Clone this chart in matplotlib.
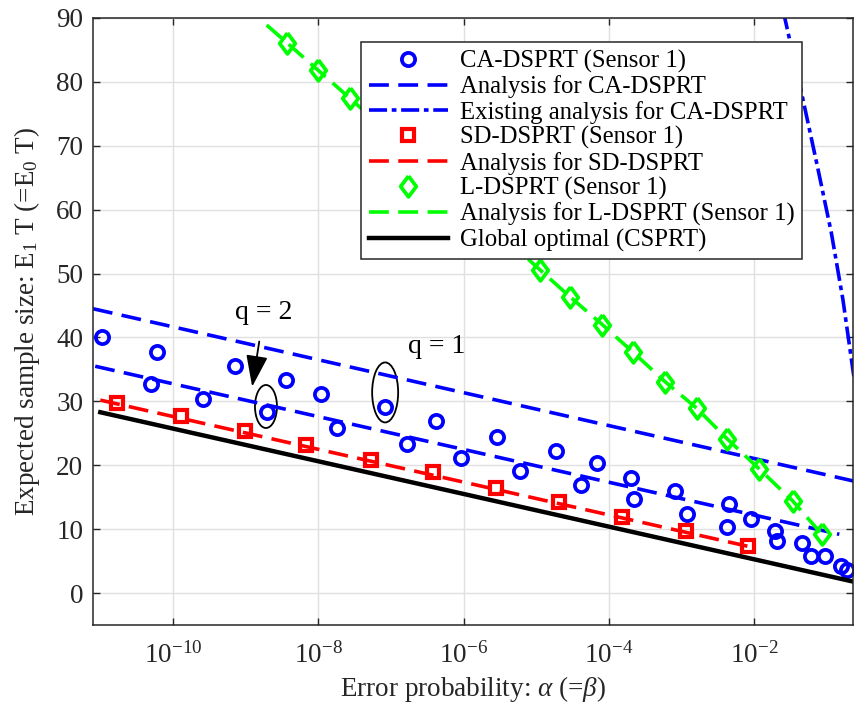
import numpy as np
import matplotlib.pyplot as plt
from matplotlib.patches import Ellipse
from matplotlib.transforms import ScaledTranslation

plt.rcParams['font.family'] = 'Liberation Serif'
plt.rcParams['mathtext.fontset'] = 'custom'
plt.rcParams['mathtext.rm'] = 'Liberation Serif'
plt.rcParams['mathtext.it'] = 'Liberation Serif:italic'

# error probabilities kept as log10(alpha)
ca_sim_log = [-10.98, -10.30, -10.22, -9.59, -9.15, -8.71, -8.45, -7.96, -7.74, -7.08,
              -6.78, -6.38, -6.04, -5.54, -5.23, -4.73, -4.39, -4.17, -3.70, -3.66,
              -3.09, -2.93, -2.38, -2.35, -2.05, -1.71, -1.69, -1.35, -1.22, -1.03,
              -0.80, -0.73]
ca_sim_ess = [40.0, 32.7, 37.8, 30.3, 35.6, 28.3, 33.4, 31.2, 25.9, 29.1,
              23.4, 26.9, 21.2, 24.5, 19.1, 22.3, 16.9, 20.3, 18.0, 14.7,
              15.9, 12.3, 10.3, 13.9, 11.6, 9.7, 8.1, 7.8, 5.8, 5.8,
              4.2, 3.6]

ca_q1_log = [-11.10, -0.62]
ca_q1_ess = [44.5, 17.5]
ca_q2_log = [-11.07, -0.83]
ca_q2_ess = [35.5, 9.2]

ca_old_log = [-1.60, -1.35, -1.13, -0.94, -0.78, -0.63]
ca_old_ess = [91.0, 78.3, 66.7, 56.4, 45.9, 33.9]

sd_sim_log = [-10.77, -9.89, -9.01, -8.17, -7.28, -6.42, -5.56, -4.69, -3.82, -2.94, -2.08]
sd_sim_ess = [29.8, 27.7, 25.3, 23.1, 20.9, 18.9, 16.4, 14.2, 11.9, 9.7, 7.3]
sd_an_log = [-11.0, -2.08]
sd_an_ess = [30.2, 7.3]

l_sim_log = [-8.43, -8.01, -7.57, -4.95, -4.54, -4.09, -3.67, -3.23, -2.79, -2.37, -1.93, -1.47, -1.07]
l_sim_ess = [86.1, 81.9, 77.5, 50.6, 46.4, 42.0, 37.7, 33.1, 28.9, 24.1, 19.4, 14.4, 9.2]
l_an_log = [-8.71] + l_sim_log
l_an_ess = [88.9] + l_sim_ess

cs_log = [-11.0, -0.64]
cs_ess = [28.3, 1.8]


def a(v):
    return 10.0 ** np.asarray(v)


fig = plt.figure(figsize=(8.55, 7.08), dpi=100)
ax = fig.add_axes([0.1088, 0.1172, 0.889, 0.8574])

dash = (0, (5.5, 2.6))
dashdot = (0, (5.0, 1.3, 1.3, 1.3))
diamond = [(0, 1), (0.75, 0), (0, -1), (-0.75, 0), (0, 1)]

ax.plot(a(ca_sim_log), ca_sim_ess, 'o', color='#0000ff', ms=9.5, mew=2.7, mfc='none',
        label='CA-DSPRT (Sensor 1)')
ax.plot(a(ca_q1_log), ca_q1_ess, color='#0000ff', lw=2.6, ls=dash, label='Analysis for CA-DSPRT')
ax.plot(a(ca_q2_log), ca_q2_ess, color='#0000ff', lw=2.6, ls=dash)
ax.plot(a(ca_old_log), ca_old_ess, color='#0000ff', lw=2.6, ls=dashdot,
        label='Existing analysis for CA-DSPRT')
ax.plot(a(sd_sim_log), sd_sim_ess, 's', color='#ff0000', ms=8.5, mew=3, mfc='none',
        label='SD-DSPRT (Sensor 1)')
ax.plot(a(sd_an_log), sd_an_ess, color='#ff0000', lw=2.6, ls=dash, label='Analysis for SD-DSPRT')
ax.plot(a(l_sim_log), l_sim_ess, ls='none', marker=diamond, color='#00ff00', ms=15, mew=2.7,
        mfc='none', label='L-DSPRT (Sensor 1)')
ax.plot(a(l_an_log), l_an_ess, color='#00ff00', lw=2.6, ls=dash,
        label='Analysis for L-DSPRT (Sensor 1)')
ax.plot(a(cs_log), cs_ess, color='black', lw=3.2, label='Global optimal (CSPRT)')

ax.set_xscale('log')
ax.set_xlim(10 ** -11.1, 10 ** -0.64)
ax.set_ylim(-5, 90)
ax.set_xticks([1e-10, 1e-8, 1e-6, 1e-4, 1e-2])
ax.set_xticklabels([r'$10^{-10}$', r'$10^{-8}$', r'$10^{-6}$', r'$10^{-4}$', r'$10^{-2}$'])
ax.xaxis.set_minor_locator(plt.NullLocator())
ax.set_yticks(np.arange(0, 91, 10))

ax.grid(True, color='#e0e0e0', lw=1)
ax.set_axisbelow(True)
for s in ax.spines.values():
    s.set_color('#262626')
    s.set_linewidth(1.1)
ax.tick_params(direction='in', length=5, width=1, top=True, right=True,
               colors='#262626', labelsize=19.5)
ax.tick_params(axis='y', pad=7)
ax.tick_params(axis='x', pad=12)

ax.set_xlabel(r'Error probability: $\alpha$ (=$\beta$)', fontsize=19.5, color='#262626', labelpad=4)
ax.set_ylabel(r'Expected sample size: E$_1$ T (=E$_0$ T)', fontsize=19.5, color='#262626',
              labelpad=10)

# ellipses marking the q = 2 and q = 1 circles
for cx, cy, w, h in [(-8.72, 29.2, 0.22, 0.43), (-7.08, 31.4, 0.26, 0.60)]:
    tr = fig.dpi_scale_trans + ScaledTranslation(10 ** cx, cy, ax.transData)
    ax.add_patch(Ellipse((0, 0), w, h, transform=tr, fill=False, ec='black', lw=1.3))

ax.annotate('q = 2', xy=(10 ** -8.91, 32.3), xytext=(10 ** -8.75, 43.9),
            ha='center', va='center', fontsize=20,
            arrowprops=dict(arrowstyle='-|>,head_length=1.3,head_width=0.45',
                            color='black', lw=1.3, mutation_scale=15, shrinkA=10, shrinkB=0))
ax.text(10 ** -6.37, 38.6, 'q = 1', ha='center', va='center', fontsize=20)

leg = ax.legend(loc='upper right', bbox_to_anchor=(0.933, 0.960), fontsize=17.8,
                frameon=True, fancybox=False, edgecolor='#262626', framealpha=1,
                borderaxespad=0, handlelength=3.2, labelspacing=0.1, borderpad=0.3,
                handletextpad=0.5)
leg.get_frame().set_linewidth(1.1)

fig.savefig('out.png', dpi=100)
